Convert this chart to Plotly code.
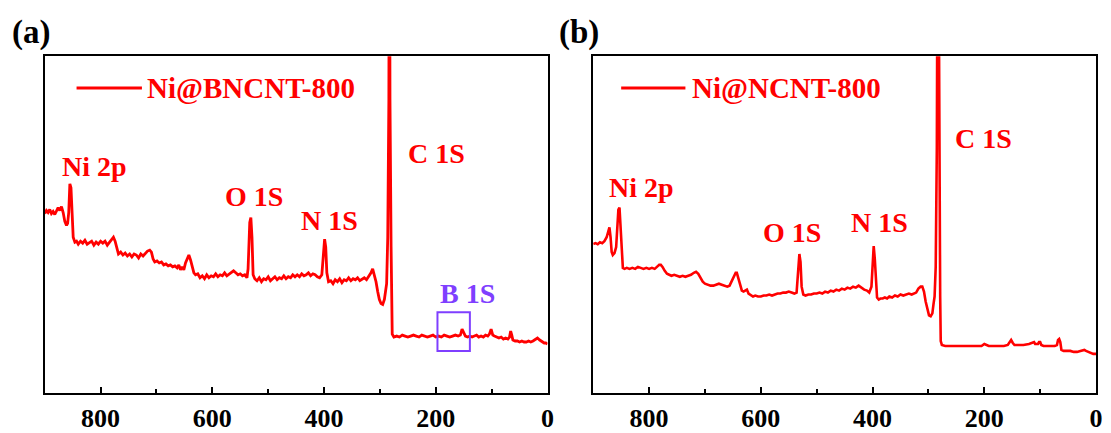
import plotly.graph_objects as go

# ---------------- data (binding energy, eV ; intensity a.u.) ----------------
be_a = [900, 897, 894, 891, 888, 885, 882, 879, 876, 873, 870, 867, 864, 861, 859, 857, 855, 853, 851, 849,
        846, 843, 840, 836, 832, 828, 824, 820, 816, 812, 808, 804, 800, 796, 792, 788, 784, 780, 777, 774,
        771, 768, 764, 760, 756, 752, 748, 744, 740, 736, 732, 728, 724, 720, 716, 712, 709, 706, 703, 699,
        695, 691, 687, 683, 679, 675, 671, 667, 663, 660, 657, 654, 651, 648, 645, 642, 639, 636, 633, 630,
        626, 622, 618, 614, 610, 606, 602, 598, 594, 590, 586, 582, 578, 574, 570, 566, 562, 558, 554, 550,
        546, 542, 538, 536, 533, 531, 529, 527, 524, 520, 516, 512, 508, 504, 500, 496, 492, 488, 484, 480,
        476, 472, 468, 464, 460, 456, 452, 448, 444, 440, 436, 432, 428, 424, 420, 416, 412, 408, 404, 402,
        399, 397, 395, 392, 388, 384, 380, 376, 372, 368, 364, 360, 356, 352, 348, 344, 340, 336, 332, 328,
        324, 320, 316, 313, 310, 307, 304, 301, 298, 295, 292, 290, 288, 286, 284, 283, 282, 280, 279, 278,
        275, 270, 265, 260, 255, 250, 245, 240, 235, 230, 225, 220, 215, 210, 205, 200, 195, 190, 185, 180,
        175, 170, 165, 160, 156, 153, 150, 147, 143, 139, 135, 131, 127, 123, 119, 115, 111, 107, 104, 101,
        98, 95, 91, 87, 83, 79, 75, 71, 68, 66, 64, 62, 58, 54, 50, 46, 42, 38, 34, 30,
        26, 22, 18, 14, 10, 6, 3, 0]
int_a = [182, 185, 183, 186, 182, 184, 181, 184, 188, 185, 189, 183, 174, 170, 172, 183, 212, 208, 183, 158,
         153, 154, 151, 154, 152, 155, 151, 153, 154, 150, 153, 151, 154, 152, 154, 150, 153, 155, 158, 154,
         146, 141, 143, 140, 142, 139, 141, 138, 141, 140, 137, 141, 139, 142, 144, 145, 143, 136, 133, 134,
         132, 133, 130, 131, 129, 130, 128, 129, 127, 130, 125, 128, 125, 132, 136, 140, 135, 128, 122, 120,
         121, 117, 119, 116, 120, 117, 119, 118, 121, 118, 120, 119, 122, 119, 121, 122, 124, 122, 120, 121,
         119, 120, 117, 126, 173, 178, 158, 120, 116, 114, 117, 113, 116, 115, 118, 114, 116, 118, 115, 117,
         116, 119, 116, 118, 117, 120, 118, 120, 118, 121, 119, 120, 122, 119, 121, 120, 118, 117, 120, 136,
         156, 148, 122, 113, 114, 111, 115, 113, 116, 112, 115, 114, 117, 114, 116, 115, 117, 114, 116, 117,
         115, 118, 122, 126, 120, 113, 103, 95, 91, 90, 95, 106, 111, 158, 298, 598, 298, 148, 78, 60,
         57, 58, 57, 59, 58, 57, 58, 59, 58, 57, 59, 58, 57, 58, 59, 57, 58, 57, 59, 58,
         57, 58, 59, 58, 59, 65, 62, 58, 57, 58, 57, 58, 59, 57, 58, 57, 59, 58, 60, 65,
         59, 58, 57, 56, 57, 55, 56, 55, 57, 63, 59, 54, 53, 53, 52, 53, 52, 52, 53, 52,
         53, 55, 56, 54, 52, 51, 51, 50]

be_b = [900, 896, 892, 888, 884, 880, 876, 873, 871, 869, 867, 865, 862, 859, 857, 855, 853, 851, 849, 847,
        844, 840, 835, 830, 825, 820, 815, 810, 805, 800, 795, 790, 786, 782, 779, 776, 772, 768, 764, 760,
        755, 750, 745, 740, 735, 730, 725, 720, 716, 712, 708, 704, 700, 695, 690, 685, 680, 675, 670, 665,
        660, 656, 652, 648, 645, 643, 640, 637, 634, 631, 628, 625, 622, 618, 614, 610, 605, 600, 595, 590,
        585, 580, 575, 570, 565, 560, 555, 550, 545, 540, 536, 533, 531, 529, 527, 524, 520, 515, 510, 505,
        500, 495, 490, 485, 480, 475, 470, 465, 460, 455, 450, 445, 440, 435, 430, 425, 420, 415, 410, 406,
        402, 400, 398, 396, 394, 392, 389, 386, 382, 378, 374, 370, 365, 360, 355, 350, 345, 340, 335, 330,
        326, 322, 318, 314, 311, 308, 305, 302, 299, 296, 293, 291, 289, 287, 285, 283, 281, 279, 278, 276,
        270, 260, 250, 240, 230, 220, 210, 205, 200, 197, 192, 185, 175, 165, 158, 155, 152, 149, 146, 140,
        130, 120, 115, 111, 109, 104, 102, 100, 98, 94, 88, 80, 74, 70, 68, 66, 64, 62, 58, 52,
        46, 40, 34, 28, 24, 21, 18, 14, 10, 5, 0]
int_b = [151, 152, 151, 153, 152, 154, 158, 166, 168, 158, 143, 140, 142, 148, 168, 186, 188, 168, 136, 127,
         126, 127, 126, 127, 126, 128, 127, 126, 127, 126, 127, 126, 128, 130, 130, 128, 124, 121, 120, 119,
         120, 119, 118, 119, 118, 119, 120, 122, 123, 121, 117, 113, 111, 110, 109, 109, 110, 111, 110, 109,
         108, 109, 114, 120, 122, 122, 117, 110, 104, 103, 104, 105, 101, 99, 98, 99, 98, 98, 99, 99,
         100, 99, 100, 101, 101, 102, 102, 103, 102, 101, 102, 128, 141, 133, 108, 100, 99, 100, 100, 101,
         101, 102, 101, 103, 102, 104, 103, 105, 104, 106, 105, 107, 106, 108, 107, 109, 107, 105, 104, 102,
         108, 138, 149, 136, 108, 97, 95, 96, 96, 97, 96, 98, 97, 99, 98, 100, 99, 100, 101, 100,
         101, 102, 106, 108, 108, 103, 93, 84, 79, 78, 81, 90, 98, 128, 248, 598, 248, 98, 53, 49,
         48, 48, 48, 48, 48, 48, 48, 48, 50, 49, 48, 48, 48, 48, 49, 51, 54, 51, 49, 49,
         49, 50, 51, 52, 50, 50, 52, 52, 49, 48, 48, 48, 48, 49, 54, 55, 52, 44, 43, 43,
         43, 42, 42, 43, 44, 44, 43, 42, 41, 40, 40]

ticks_x = [800, 600, 400, 200, 0]
sample_a = "Ni@BNCNT-800"
sample_b = "Ni@NCNT-800"
peak_labels_a = [("Ni 2p", 811, 230), ("O 1S", 526, 199), ("N 1S", 391, 175), ("C 1S", 198, 243)]
peak_labels_b = [("Ni 2p", 813, 208), ("O 1S", 544, 163), ("N 1S", 388, 173), ("C 1S", 201, 258)]
b1s_label = ("B 1S", 143, 101)
b1s_box = (197, 139, 43, 82)   # x0, x1, y0, y1 (data units)

RED = "#ff0000"
PURPLE = "#7f3fff"
FONT = "Times New Roman, Liberation Serif, serif"

fig = go.Figure()
fig.add_trace(go.Scatter(x=be_a, y=int_a, mode="lines", line=dict(color=RED, width=2.8),
                         xaxis="x", yaxis="y", showlegend=False))
fig.add_trace(go.Scatter(x=be_b, y=int_b, mode="lines", line=dict(color=RED, width=2.6),
                         xaxis="x2", yaxis="y2", showlegend=False))

xcommon = dict(range=[900, 0], tickvals=ticks_x, ticks="inside", ticklen=6, tickwidth=2,
               tickcolor="black", showline=True, linecolor="black", linewidth=2, mirror=True,
               showgrid=False, zeroline=False,
               minor=dict(ticks="inside", ticklen=4, tickwidth=1.5, tickvals=[700, 500, 300, 100],
                          tickcolor="black", showgrid=False),
               tickfont=dict(family=FONT, size=26, color="black", weight="bold"))
ycommon = dict(range=[0, 341], showticklabels=False, ticks="", showline=True, linecolor="black",
               linewidth=2, mirror=True, showgrid=False, zeroline=False)

fig.update_layout(
    width=1111, height=433, margin=dict(l=0, r=0, t=0, b=0),
    paper_bgcolor="white", plot_bgcolor="white",
    xaxis=dict(domain=[45 / 1111, 551 / 1111], anchor="y", **xcommon),
    yaxis=dict(domain=[35 / 433, 376 / 433], anchor="x", **ycommon),
    xaxis2=dict(domain=[597 / 1111, 1103 / 1111], anchor="y2", **xcommon),
    yaxis2=dict(domain=[35 / 433, 376 / 433], anchor="x2", **ycommon),
)

ann = []
shapes = []
bold = dict(family=FONT, size=28, color=RED, weight="bold")
for (t, x, y) in peak_labels_a:
    ann.append(dict(text=t, x=x, y=y, xref="x", yref="y", showarrow=False, font=bold))
for (t, x, y) in peak_labels_b:
    ann.append(dict(text=t, x=x, y=y, xref="x2", yref="y2", showarrow=False, font=bold))
ann.append(dict(text=b1s_label[0], x=b1s_label[1], y=b1s_label[2], xref="x", yref="y", showarrow=False,
                font=dict(family=FONT, size=28, color=PURPLE, weight="bold")))
shapes.append(dict(type="rect", xref="x", yref="y", x0=b1s_box[0], x1=b1s_box[1], y0=b1s_box[2],
                   y1=b1s_box[3], line=dict(color=PURPLE, width=2)))
# legends (line + label)
ann.append(dict(text=sample_a, x=721, y=309, xref="x", yref="y", xanchor="left", showarrow=False,
                font=dict(family=FONT, size=29, color=RED, weight="bold")))
shapes.append(dict(type="line", xref="x", yref="y", x0=843, x1=726, y0=309, y1=309,
                   line=dict(color=RED, width=3)))
ann.append(dict(text=sample_b, x=726, y=309, xref="x2", yref="y2", xanchor="left", showarrow=False,
                font=dict(family=FONT, size=29, color=RED, weight="bold")))
shapes.append(dict(type="line", xref="x2", yref="y2", x0=850, x1=735, y0=309, y1=309,
                   line=dict(color=RED, width=3)))
# panel letters
ann.append(dict(text="(a)", x=31 / 1111, y=1 - 33 / 433, xref="paper", yref="paper", showarrow=False,
                xanchor="center", yanchor="middle",
                font=dict(family=FONT, size=33, color="black", weight="bold")))
ann.append(dict(text="(b)", x=583 / 1111, y=1 - 33 / 433, xref="paper", yref="paper", showarrow=False,
                xanchor="center", yanchor="middle",
                font=dict(family=FONT, size=33, color="black", weight="bold")))

fig.update_layout(annotations=ann, shapes=shapes)
fig.write_html("out.html")
